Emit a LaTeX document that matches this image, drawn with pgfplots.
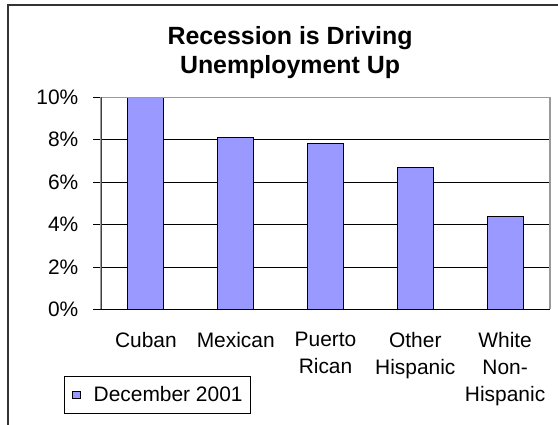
\documentclass[border=0pt]{standalone}
\usepackage{pgfplots}
\pgfplotsset{compat=1.18}
\usepackage{fontspec}
\setmainfont{Liberation Sans}
\definecolor{barblue}{HTML}{9999FF}
\definecolor{boxgray}{HTML}{9A9A9A}

\begin{document}
\begin{tikzpicture}[x=1bp,y=1bp]
  \useasboundingbox (0,0) rectangle (558,424);
  % chart area frame (runs off the right and bottom edge)
  \draw[line width=1.2bp, black!80] (8,-10) -- (8,419) -- (580,419);
  \begin{axis}[
      at={(101bp,114.7bp)}, anchor=south west,
      scale only axis,
      width=449bp, height=212bp,
      ybar, bar width=36bp,
      xmin=-0.5, xmax=4.5,
      ymin=0, ymax=10,
      xtick=data,
      xticklabels={Cuban, Mexican, {Puerto\\Rican}, {Other\\Hispanic}, {White\\Non-\\Hispanic}},
      ytick={0,2,4,6,8,10},
      yticklabels={0\%,2\%,4\%,6\%,8\%,10\%},
      ytick pos=left,
      tick align=outside,
      major tick length=8bp,
      xtick style={draw=none},
      ytick style={draw=black, line width=0.8bp},
      ymajorgrids,
      major grid style={black, line width=0.8bp},
      axis line style={draw=none},
      tick label style={font=\fontsize{21}{27}\selectfont},
      xticklabel style={align=center, anchor=north, inner sep=0pt, yshift=-15bp},
      yticklabel style={anchor=east, inner sep=0pt, xshift=-14.5bp},
      /pgf/number format/assume math mode=true,
      title={Recession is Driving\\Unemployment Up},
      title style={at={(0.421,1)}, anchor=north, yshift=65.5bp, inner sep=0pt,
                   align=center, font=\bfseries\fontsize{25}{30}\selectfont},
      legend style={at={(-0.0824,-0.3146)}, anchor=north west,
                    draw=black, line width=0.8bp,
                    font=\fontsize{21}{25}\selectfont,
                    inner xsep=8bp, inner ysep=10bp,
                    nodes={inner sep=0pt},
                    /tikz/every odd column/.append style={column sep=13bp}},
      legend image code/.code={
        \draw[fill=barblue, draw=black, line width=0.8bp] (0bp,-3.7bp) rectangle (7.5bp,3.7bp);
      },
      after end axis/.code={
        \draw[boxgray, line width=1.2bp] (rel axis cs:0,0) -- (rel axis cs:0,1) -- (rel axis cs:1,1) -- (rel axis cs:1,0);
        \draw[black!75, line width=1bp] (rel axis cs:0,0) -- (rel axis cs:0,1);
        \draw[black, line width=1bp] (rel axis cs:0,0) -- (rel axis cs:1,0);
      },
    ]
    \addplot[fill=barblue, draw=black, line width=1bp] coordinates {
      (0,10.2) (1,8.1) (2,7.8) (3,6.7) (4,4.4)
    };
    \legend{December 2001}
  \end{axis}
\end{tikzpicture}
\end{document}
